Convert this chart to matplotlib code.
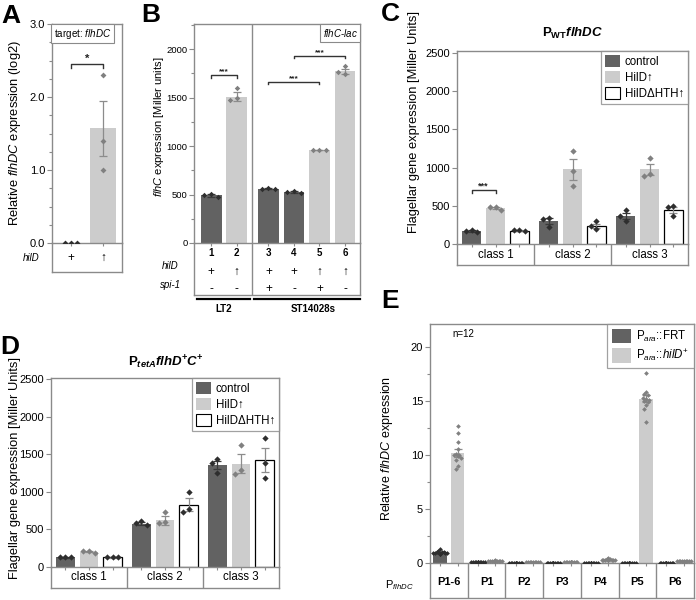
import numpy as np
import matplotlib
matplotlib.use("Agg")
import matplotlib.pyplot as plt
from matplotlib.patches import Patch

plt.rcParams['font.family'] = ['Liberation Sans', 'DejaVu Sans']
plt.rcParams['mathtext.fontset'] = 'custom'
plt.rcParams['mathtext.rm'] = 'Liberation Sans'
plt.rcParams['mathtext.it'] = 'Liberation Sans:italic'
plt.rcParams['mathtext.bf'] = 'Liberation Sans:bold'
plt.rcParams['mathtext.bfit'] = 'Liberation Sans:italic:bold'
plt.rcParams['mathtext.sf'] = 'Liberation Sans'

# ---------------- data ----------------
# Panel A
a_hilD = ['+', '\u2191']
a_means = [0.0, 1.57]
a_sem = [0.0, 0.38]
a_points = [[0.0, 0.0, 0.0], [2.30, 1.40, 1.00]]

# Panel B
b_lanes = ['1', '2', '3', '4', '5', '6']
b_hilD = ['+', '\u2191', '+', '+', '\u2191', '\u2191']
b_spi1 = ['-', '-', '+', '-', '+', '-']
b_strains = ['LT2', 'ST14028s']
b_means = [490, 1510, 560, 525, 960, 1770]
b_sem = [12, 45, 4, 8, 3, 25]
b_points = [[510, 470, 500], [1600, 1470, 1490], [565, 555, 560],
            [540, 520, 530], [960, 960, 960], [1820, 1740, 1760]]

# Panel C
classes = ['class 1', 'class 2', 'class 3']
series = ['control', 'HilD\u2191', 'HilD\u0394HTH\u2191']
c_means = [[170, 296, 368], [470, 976, 976], [176, 240, 440]]
c_sem = [[9, 40, 40], [13, 135, 70], [6, 25, 40]]
c_points = [[[187, 157, 175], [344, 331, 222], [440, 362, 301]],
            [[484, 440, 480], [1216, 960, 755], [1125, 920, 890]],
            [[187, 166, 179], [296, 200, 231], [492, 484, 362]]]

# Panel D
d_means = [[128, 575, 1352], [205, 622, 1376], [128, 826, 1422]]
d_sem = [[4, 18, 55], [12, 60, 125], [4, 85, 155]]
d_points = [[[130, 130, 130], [610, 565, 585], [1430, 1385, 1245]],
            [[215, 188, 210], [735, 590, 600], [1620, 1295, 1235]],
            [[130, 130, 130], [995, 735, 765], [1710, 1385, 1190]]]

# Panel E
e_groups = ['P1-6', 'P1', 'P2', 'P3', 'P4', 'P5', 'P6']
e_series = ['FRT', 'hilD']
e_frt_means = [1.0, 0.10, 0.02, 0.02, 0.03, 0.03, 0.02]
e_frt_sem = [0.05, 0.01, 0.01, 0.01, 0.01, 0.01, 0.01]
e_hild_means = [10.15, 0.20, 0.05, 0.07, 0.30, 15.2, 0.15]
e_hild_sem = [0.35, 0.02, 0.01, 0.01, 0.03, 0.30, 0.02]
e_frt_points = [
    [1.30, 1.15, 1.05, 1.00, 0.98, 0.95, 0.92, 0.90, 0.88, 0.85, 0.82, 0.80],
    [0.12, 0.11, 0.11, 0.10, 0.10, 0.10, 0.09, 0.09, 0.10, 0.11, 0.09, 0.10],
    [0.03, 0.02, 0.02, 0.02, 0.01, 0.02, 0.03, 0.02, 0.02, 0.01, 0.02, 0.02],
    [0.03, 0.02, 0.02, 0.02, 0.01, 0.02, 0.03, 0.02, 0.02, 0.01, 0.02, 0.02],
    [0.04, 0.03, 0.03, 0.03, 0.02, 0.03, 0.04, 0.03, 0.03, 0.02, 0.03, 0.03],
    [0.04, 0.03, 0.03, 0.03, 0.02, 0.03, 0.04, 0.03, 0.03, 0.02, 0.03, 0.03],
    [0.03, 0.02, 0.02, 0.02, 0.01, 0.02, 0.03, 0.02, 0.02, 0.01, 0.02, 0.02]]
e_hild_points = [
    [12.7, 12.0, 11.2, 10.5, 10.1, 10.0, 10.0, 9.9, 9.7, 9.5, 9.0, 8.7],
    [0.24, 0.22, 0.21, 0.20, 0.20, 0.19, 0.19, 0.18, 0.20, 0.21, 0.18, 0.18],
    [0.07, 0.06, 0.05, 0.05, 0.05, 0.04, 0.05, 0.06, 0.04, 0.05, 0.05, 0.04],
    [0.09, 0.08, 0.07, 0.07, 0.07, 0.06, 0.07, 0.08, 0.06, 0.07, 0.07, 0.06],
    [0.42, 0.38, 0.33, 0.30, 0.30, 0.28, 0.27, 0.26, 0.25, 0.28, 0.27, 0.26],
    [17.6, 15.8, 15.6, 15.5, 15.3, 15.2, 15.1, 15.0, 14.9, 14.6, 14.2, 13.0],
    [0.20, 0.18, 0.17, 0.15, 0.15, 0.14, 0.14, 0.13, 0.15, 0.14, 0.13, 0.12]]

# ---------------- style ----------------
W, H = 696, 600
DARK = '#626262'
LIGHT = '#cccccc'
FRAME = '#8a8a8a'
PT_DARK = '#2e2e2e'
PT_LIGHT = '#808080'
ERR_DARK = '#3a3a3a'
ERR_LIGHT = '#8c8c8c'

fig = plt.figure(figsize=(W / 100, H / 100), dpi=100)


def rect(l, t, r, b):
    return [l / W, 1 - b / H, (r - l) / W, (b - t) / H]


def fx(x):
    return x / W


def fy(y):
    return 1 - y / H


def style_axes(ax, fs):
    for s in ax.spines.values():
        s.set_color(FRAME)
        s.set_linewidth(1.0)
    ax.tick_params(axis='both', which='both', direction='out', color=FRAME,
                   labelsize=fs, labelcolor='black', width=0.8)
    ax.tick_params(axis='y', which='major', length=3.5, pad=1.5)
    ax.tick_params(axis='y', which='minor', length=2)
    ax.tick_params(axis='x', which='major', length=2.5, labelbottom=False)


def box_axes(l, t, r, b, xlim):
    bx = fig.add_axes(rect(l, t, r, b))
    bx.set_xlim(*xlim)
    bx.set_ylim(0, 1)
    bx.set_xticks([])
    bx.set_yticks([])
    bx.patch.set_alpha(0)
    for s in bx.spines.values():
        s.set_color(FRAME)
        s.set_linewidth(1.0)
    bx.spines['top'].set_visible(False)
    return bx


def swarm(vals, ppu, d, thr_px=6.0, nmax=6):
    vals = list(vals)
    offs = [0.0] * len(vals)
    placed = []
    cands = [0.0]
    for k in range(1, nmax + 1):
        cands += [-k * d, k * d]
    order = sorted(range(len(vals)), key=lambda i: -vals[i])
    for i in order:
        y = vals[i]
        chosen = 0.0
        for c in cands:
            ok = True
            for (px, py) in placed:
                if abs(c - px) < d * 0.5 and abs(y - py) * ppu < thr_px:
                    ok = False
                    break
            if ok:
                chosen = c
                break
        offs[i] = chosen
        placed.append((chosen, y))
    return offs


def draw_bar(ax, x, mean, sem, pts, width, color, ppu, d, ms=3.0, edge=None, nmax=3):
    if edge is None:
        ax.bar(x, mean, width, color=color, edgecolor='none', zorder=2)
    else:
        ax.bar(x, mean, width, color=color, edgecolor=edge, linewidth=0.9, zorder=2)
    ecol = ERR_DARK if color == DARK else ERR_LIGHT
    if sem > 0:
        ax.errorbar([x], [mean], yerr=[[sem], [sem]], fmt='none', ecolor=ecol,
                    elinewidth=0.9, capsize=3.2, capthick=0.9, zorder=3)
    pcol = PT_LIGHT if color == LIGHT else PT_DARK
    offs = swarm(pts, ppu, d, nmax=nmax)
    ax.scatter([x + o for o in offs], pts, s=ms ** 2, marker='D', color=pcol,
               linewidths=0, zorder=4)


def bracket(ax, x1, x2, y, h, text, fs=7):
    ax.plot([x1, x1, x2, x2], [y - h, y, y, y - h], color='#333333', lw=1.0,
            zorder=5, clip_on=False)
    ax.text((x1 + x2) / 2, y, text, ha='center', va='bottom', fontsize=fs,
            color='#222222', fontweight='bold')


def panel_letter(x, y, s):
    fig.text(fx(x), fy(y), s, fontsize=19, fontweight='bold', ha='left', va='top')


# ================= Panel A =================
axA = fig.add_axes(rect(52, 24, 122, 243))
xa = np.arange(len(a_means))
axA.set_xlim(-0.6, 1.6)
axA.set_ylim(0, 3.0)
ppuA = 219 / 3.0
for i in range(len(a_means)):
    col = LIGHT if a_hilD[i] == '\u2191' else DARK
    draw_bar(axA, xa[i], a_means[i], a_sem[i], a_points[i], 0.81, col, ppuA, 0.2)
axA.set_yticks([0, 1, 2, 3])
axA.set_yticklabels(['0.0', '1.0', '2.0', '3.0'])
axA.set_yticks(np.arange(0, 3.01, 0.25), minor=True)
axA.set_xticks(xa)
style_axes(axA, 8)
bracket(axA, 0, 1, 2.45, 0.05, '*', 8)
axA.text(0.025, 0.988, r'target: $\mathit{flhDC}$', transform=axA.transAxes,
         ha='left', va='top', fontsize=7.1,
         bbox=dict(boxstyle='square,pad=0.25', fc='white', ec=FRAME, lw=0.8))
bxA = box_axes(52, 243, 122, 272, axA.get_xlim())
for i, s in enumerate(a_hilD):
    bxA.text(xa[i], 0.5, s, ha='center', va='center', fontsize=8.5)
fig.text(fx(31), fy(258), 'hilD', fontsize=7, style='italic', ha='center', va='center')
fig.text(fx(15), fy(133), r'Relative $\mathit{flhDC}$ expression (log2)', rotation=90,
         ha='center', va='center', fontsize=9.3)
panel_letter(1, 4, 'A')

# ================= Panel B =================
axB = fig.add_axes(rect(194, 24, 360, 243))
xb = np.array([0, 1, 2.25, 3.25, 4.25, 5.25])
axB.set_xlim(-0.67, 5.84)
axB.set_ylim(0, 2258)
ppuB = 219 / 2258
for i in range(len(b_means)):
    col = LIGHT if b_hilD[i] == '\u2191' else DARK
    draw_bar(axB, xb[i], b_means[i], b_sem[i], b_points[i], 0.82, col, ppuB, 0.27,
             ms=2.8)
axB.set_yticks([0, 500, 1000, 1500, 2000])
axB.set_yticks(np.arange(0, 2251, 250), minor=True)
axB.set_xticks(xb)
style_axes(axB, 6.8)
axB.tick_params(axis='y', which='major', pad=1.0)
axB.axvline(1.6, color=FRAME, lw=1.0)
bracket(axB, xb[0], xb[1], 1730, 25, '***', 6)
bracket(axB, xb[2], xb[4], 1660, 25, '***', 6)
bracket(axB, xb[3], xb[5], 1930, 25, '***', 6)
axB.text(0.985, 0.985, r'$\mathit{flhC}$-$\mathit{lac}$', transform=axB.transAxes,
         ha='right', va='top', fontsize=7,
         bbox=dict(boxstyle='square,pad=0.3', fc='white', ec=FRAME, lw=0.8))
bxB = box_axes(194, 243, 360, 295, axB.get_xlim())
bxB.axvline(1.6, color=FRAME, lw=1.0)
for i in range(len(b_lanes)):
    bxB.text(xb[i], 0.81, b_lanes[i], ha='center', va='center', fontsize=7,
             fontweight='bold')
    bxB.text(xb[i], 0.45, b_hilD[i], ha='center', va='center', fontsize=8.5)
    bxB.text(xb[i], 0.12, b_spi1[i], ha='center', va='center', fontsize=8.5)
fig.text(fx(170), fy(266), 'hilD', fontsize=7, style='italic', ha='center', va='center')
fig.text(fx(170), fy(285), 'spi-1', fontsize=7, style='italic', ha='center', va='center')
# strain bars
fig.add_artist(plt.Line2D([fx(197), fx(250)], [fy(299), fy(299)], color='black', lw=1.6))
fig.add_artist(plt.Line2D([fx(254), fx(360)], [fy(299), fy(299)], color='black', lw=1.6))
fig.text(fx(224), fy(309), b_strains[0], fontsize=7, fontweight='bold', ha='center', va='center')
fig.text(fx(313), fy(309), b_strains[1], fontsize=7, fontweight='bold', ha='center', va='center')
fig.text(fx(159.5), fy(127), r'$\mathit{flhC}$ expression [Miller units]', rotation=90,
         ha='center', va='center', fontsize=8)
panel_letter(141, 3, 'B')


# ================= Panels C & D =================
def grouped_panel(l, t, r, b, bb, top, means, sems, points, ylabel_xy, title,
                  title_xy, letter_xy, letter, sig=None):
    ax = fig.add_axes(rect(l, t, r, b))
    xc = np.arange(len(classes))
    ax.set_xlim(-0.5, 2.5)
    ax.set_ylim(0, top)
    ppu = (b - t) / top
    offs = [-0.31, 0.0, 0.31]
    cols = [DARK, LIGHT, 'white']
    for s in range(3):
        for c in range(3):
            draw_bar(ax, xc[c] + offs[s], means[s][c], sems[s][c], points[s][c], 0.245,
                     cols[s], ppu, 0.075, ms=3.2, edge='black' if s == 2 else None)
    ax.set_yticks([0, 500, 1000, 1500, 2000, 2500])
    ax.set_xticks([xc[c] + o for c in range(3) for o in offs])
    style_axes(ax, 8)
    if sig is not None:
        bracket(ax, xc[0] + offs[0], xc[0] + offs[1], sig, 35, '***', 6.5)
    handles = [Patch(facecolor=DARK, edgecolor='none'),
               Patch(facecolor=LIGHT, edgecolor='none'),
               Patch(facecolor='white', edgecolor='black', linewidth=0.8)]
    lg = ax.legend(handles, series, loc='upper right', fontsize=8.3, frameon=True,
                   fancybox=False, edgecolor=FRAME, handlelength=1.25, handleheight=1.25,
                   handletextpad=0.45, borderpad=0.35, labelspacing=0.25,
                   borderaxespad=0.0)
    lg.get_frame().set_linewidth(0.9)
    bx = box_axes(l, b, r, bb, ax.get_xlim())
    for c in range(3):
        bx.text(xc[c], 0.5, classes[c], ha='center', va='center', fontsize=8.3)
    for dv in [0.5, 1.5]:
        bx.axvline(dv, color=FRAME, lw=1.0)
    fig.text(fx(ylabel_xy[0]), fy(ylabel_xy[1]),
             'Flagellar gene expression [Miller Units]', rotation=90,
             ha='center', va='center', fontsize=9.3)
    fig.text(fx(title_xy[0]), fy(title_xy[1]), title, ha='center', va='center',
             fontsize=9.5)
    panel_letter(letter_xy[0], letter_xy[1], letter)
    return ax


grouped_panel(457, 51, 688, 244, 265, 2525, c_means, c_sem, c_points, (414, 122),
              r'$\mathbf{P}_{\mathbf{WT}}\mathbfit{flhDC}$', (573, 33), (381, 2), 'C',
              sig=700)
grouped_panel(51, 378, 279, 567, 588, 2513, d_means, d_sem, d_points, (15, 468),
              r'$\mathbf{P}_{\mathbfit{tetA}}\mathbfit{flhD}^{\mathbf{+}}\mathbfit{C}^{\mathbf{+}}$',
              (166, 362), (0, 335), 'D')

# ================= Panel E =================
axE = fig.add_axes(rect(430, 324, 694, 563))
xe = np.arange(len(e_groups))
axE.set_xlim(-0.5, 6.5)
axE.set_ylim(0, 22.1)
ppuE = 239 / 22.1
eo = 0.23
for g in range(len(e_groups)):
    draw_bar(axE, xe[g] - eo, e_frt_means[g], e_frt_sem[g], e_frt_points[g], 0.36, DARK,
             ppuE, 0.045, ms=2.4, nmax=4)
    draw_bar(axE, xe[g] + eo, e_hild_means[g], e_hild_sem[g], e_hild_points[g], 0.36,
             LIGHT, ppuE, 0.045, ms=2.4, nmax=4)
axE.set_yticks([0, 5, 10, 15, 20])
axE.set_yticks(np.arange(0, 22.1, 2.5), minor=True)
axE.set_xticks([x + o for x in xe for o in (-eo, eo)])
style_axes(axE, 8)
axE.text(0.1, 21.2, 'n=12', fontsize=7, ha='left', va='center')
hE = [Patch(facecolor=DARK, edgecolor='none'), Patch(facecolor=LIGHT, edgecolor='none')]
lgE = axE.legend(hE, [r'P$_{\mathit{ara}}$::FRT', r'P$_{\mathit{ara}}$::$\mathit{hilD}^{+}$'],
                 loc='upper right', fontsize=8.3, frameon=True, fancybox=False,
                 edgecolor=FRAME, handlelength=1.6, handleheight=1.6, handletextpad=0.5,
                 borderpad=0.4, labelspacing=0.3, borderaxespad=0.0)
lgE.get_frame().set_linewidth(0.9)
bxE = box_axes(430, 563, 694, 598, axE.get_xlim())
for g in range(len(e_groups)):
    bxE.text(xe[g], 0.45, e_groups[g], ha='center', va='center', fontsize=8,
             fontweight='bold')
for dv in np.arange(0.5, 6, 1.0):
    bxE.axvline(dv, color=FRAME, lw=1.0)
fig.text(fx(400), fy(585), r'P$_{\mathit{flhDC}}$', ha='center', va='center', fontsize=8)
fig.text(fx(387), fy(448), r'Relative $\mathit{flhDC}$ expression', rotation=90,
         ha='center', va='center', fontsize=9)
panel_letter(381, 289, 'E')

fig.savefig('out.png', dpi=100)
